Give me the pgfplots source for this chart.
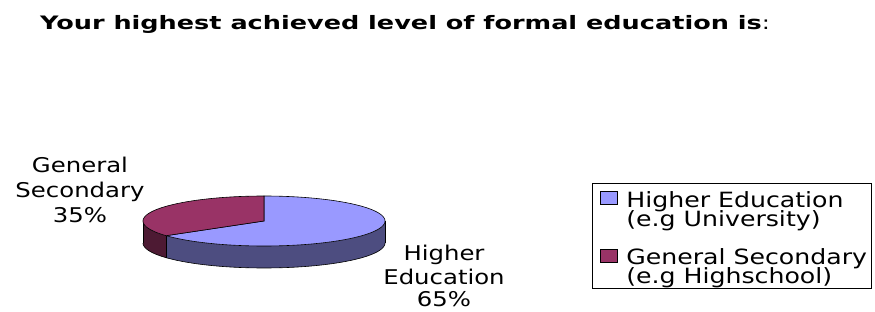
\documentclass[border=0pt]{standalone}
\usepackage{pgfplots}
\pgfplotsset{compat=1.18}
\usepackage{pgfplotstable}
\usepgfplotslibrary{fillbetween}
\usepackage{fontspec}
\setmainfont{DejaVu Sans}[FakeStretch=1.2]
\newfontface\titlebf{DejaVu Sans Bold}[FakeStretch=1.38]
\newfontface\titlerm{DejaVu Sans}[FakeStretch=1.3]

\definecolor{heTop}{HTML}{9999FF}
\definecolor{heSide}{HTML}{4D4D80}
\definecolor{gsTop}{HTML}{993366}
\definecolor{gsSide}{HTML}{4D1A33}

\pgfplotstableread{
label value
HigherEducation 65
GeneralSecondary 35
}\piedata
\pgfplotstablegetelem{0}{value}\of\piedata \let\vHE\pgfplotsretval
\pgfplotstablegetelem{1}{value}\of\piedata \let\vGS\pgfplotsretval
\pgfmathsetmacro\frac{\vHE/(\vHE+\vGS)}
\pgfmathsetmacro\aEnd{90-360*\frac}
\pgfmathsetmacro\aEndP{360+\aEnd}
\def\cx{264}\def\cy{221}\def\rx{121}\def\ry{25}\def\dd{22}
\pgfmathsetmacro\divx{\cx+\rx*cos(\aEnd)}
\pgfmathsetmacro\divy{\cy-\ry*sin(\aEnd)}
\pgfmathsetmacro\divyb{\divy+\dd}
\pgfmathsetmacro\lx{\cx-\rx}
\pgfmathsetmacro\rxx{\cx+\rx}
\pgfmathsetmacro\cyb{\cy+\dd}

\newcommand\two[2]{\vtop{\baselineskip=19pt\lineskiplimit=-100pt\hbox{#1}\hbox{#2}}}

\begin{document}
\begin{tikzpicture}
\begin{axis}[
  at={(0,0)}, anchor=south west,
  scale only axis, width=875pt, height=311pt,
  xmin=0, xmax=875, ymin=0, ymax=311, y dir=reverse,
  hide axis, clip=false,
  legend style={
    at={(axis description cs:0.6766,0.4125)}, anchor=north west,
    draw=black, line width=0.6pt, fill=white,
    inner xsep=4pt, inner ysep=0pt,
    row sep=18.5pt, column sep=0pt,
    nodes={inner sep=0pt, text depth=, font=\fontsize{21}{19}\selectfont},
    cells={anchor=base west},
  },
]
% front sides
\addplot[forget plot, name path=heT, draw=none, domain=\aEnd:0, samples=80] ({\cx+\rx*cos(x)},{\cy-\ry*sin(x)});
\addplot[forget plot, name path=heB, draw=none, domain=\aEnd:0, samples=80] ({\cx+\rx*cos(x)},{\cy+\dd-\ry*sin(x)});
\addplot[forget plot, fill=heSide, draw=none] fill between[of=heT and heB];
\addplot[forget plot, name path=gsT, draw=none, domain=180:\aEndP, samples=30] ({\cx+\rx*cos(x)},{\cy-\ry*sin(x)});
\addplot[forget plot, name path=gsB, draw=none, domain=180:\aEndP, samples=30] ({\cx+\rx*cos(x)},{\cy+\dd-\ry*sin(x)});
\addplot[forget plot, fill=gsSide, draw=none] fill between[of=gsT and gsB];
% side outlines
\addplot[forget plot, black, line width=0.6pt, domain=180:360, samples=100] ({\cx+\rx*cos(x)},{\cy+\dd-\ry*sin(x)});
\addplot[forget plot, black, line width=0.6pt] coordinates {(\lx,\cy) (\lx,\cyb)};
\addplot[forget plot, black, line width=0.6pt] coordinates {(\rxx,\cy) (\rxx,\cyb)};
\addplot[forget plot, black, line width=0.6pt] coordinates {(\divx,\divy) (\divx,\divyb)};
% tops
\addplot[forget plot, fill=heTop, draw=black, line width=0.6pt, domain=\aEnd:90, samples=120] ({\cx+\rx*cos(x)},{\cy-\ry*sin(x)}) -- (axis cs:\cx,\cy) -- cycle;
\addplot[forget plot, fill=gsTop, draw=black, line width=0.6pt, domain=90:\aEndP, samples=80] ({\cx+\rx*cos(x)},{\cy-\ry*sin(x)}) -- (axis cs:\cx,\cy) -- cycle;

% legend
\addlegendimage{legend image code/.code={
  \path[draw=none, fill=none] (0pt,0pt) rectangle (30pt,24pt);
  \draw[fill=heTop, draw=black, line width=0.5pt] (4pt,2.4pt) rectangle (21pt,15.7pt);}}
\addlegendentry{\two{Higher Education}{(e.g University)}}
\addlegendimage{legend image code/.code={
  \path[draw=none, fill=none] (0pt,0pt) rectangle (30pt,1pt);
  \draw[fill=gsTop, draw=black, line width=0.5pt] (4pt,2.4pt) rectangle (21pt,15.7pt);}}
\addlegendentry{\two{General Secondary}{(e.g Highschool)}}

% data labels
\node[anchor=base, inner sep=0pt, font=\fontsize{20.3}{24}\selectfont] at (axis cs:80,172) {General};
\node[anchor=base, inner sep=0pt, font=\fontsize{20.3}{24}\selectfont] at (axis cs:80,197) {Secondary};
\node[anchor=base, inner sep=0pt, font=\fontsize{20.3}{24}\selectfont] at (axis cs:80,222) {35\%};
\node[anchor=base, inner sep=0pt, font=\fontsize{20.3}{24}\selectfont] at (axis cs:444,260.5) {Higher};
\node[anchor=base, inner sep=0pt, font=\fontsize{20.3}{24}\selectfont] at (axis cs:444,284) {Education};
\node[anchor=base, inner sep=0pt, font=\fontsize{20.3}{24}\selectfont] at (axis cs:444,306.5) {65\%};
% title
\node[anchor=base west, inner sep=0pt, font=\fontsize{18.5}{20}\selectfont] at (axis cs:40,30) {{\titlebf Your highest achieved level of formal education is}{\titlerm :}};
\end{axis}
\pgfresetboundingbox
\path (0,0) rectangle (875pt,311pt);
\end{tikzpicture}
\end{document}
